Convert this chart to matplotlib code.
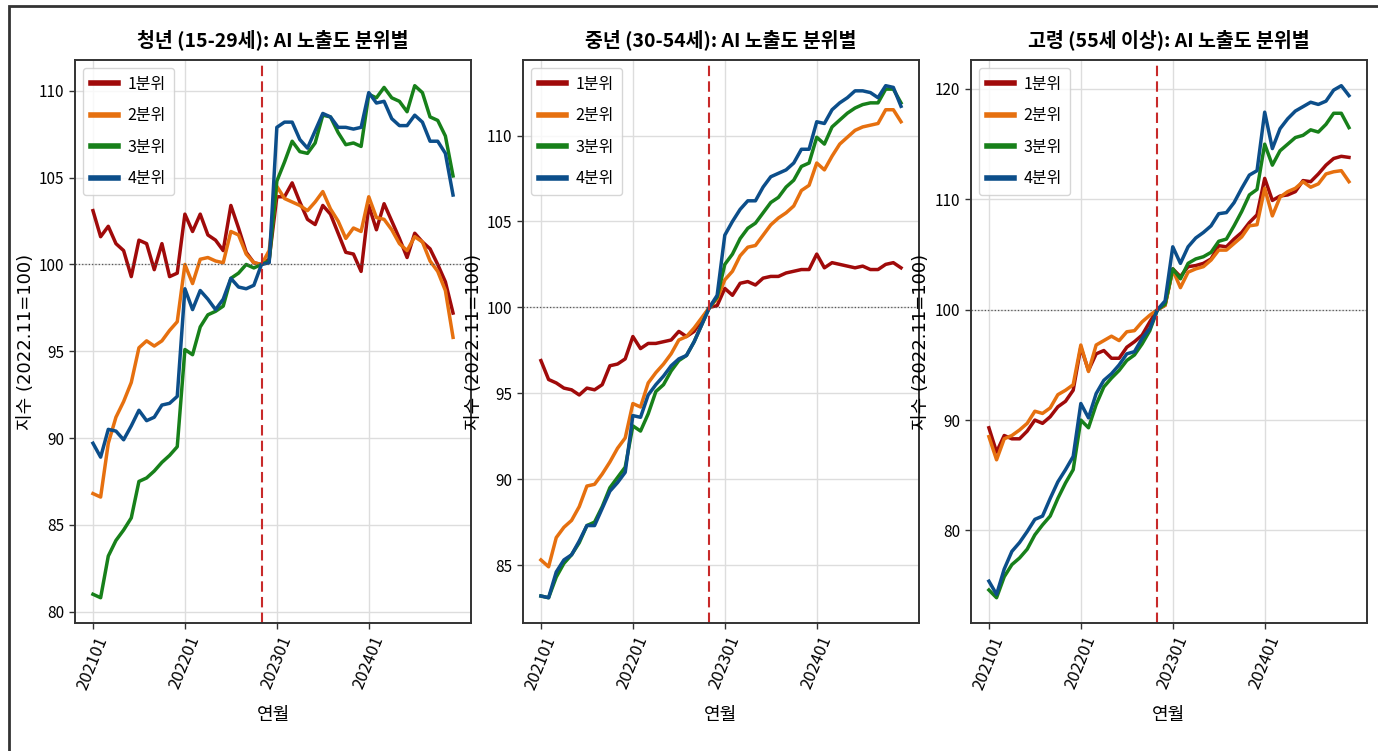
import numpy as np
import matplotlib.pyplot as plt
from matplotlib.patches import Rectangle

plt.rcParams['font.family'] = ['Noto Sans CJK KR', 'DejaVu Sans']
plt.rcParams['axes.unicode_minus'] = False

# 월별 지수 (2021.01 ~ 2024.12, 2022.11 = 100)
months = [f"{y}{m:02d}" for y in range(2021, 2025) for m in range(1, 13)]
tick_labels = ['202101', '202201', '202301', '202401']
base_month = '202211'

quant_names = ['1분위', '2분위', '3분위', '4분위']
quant_colors = ['#a00a0a', '#e6700f', '#17801a', '#0c4e8a']

youth_q1 = [103.1, 101.6, 102.2, 101.2, 100.8, 99.3, 101.4, 101.2, 99.7, 101.2, 99.3, 99.5,
            102.9, 101.9, 102.9, 101.7, 101.4, 100.8, 103.4, 102.1, 100.7, 100.1, 100.0, 100.3,
            103.9, 103.9, 104.7, 103.6, 102.6, 102.3, 103.4, 102.9, 101.8, 100.7, 100.6, 99.6,
            103.4, 102.0, 103.5, 102.5, 101.5, 100.4, 101.8, 101.3, 100.9, 100.0, 99.0, 97.2]
youth_q2 = [86.8, 86.6, 89.7, 91.2, 92.1, 93.2, 95.2, 95.6, 95.3, 95.6, 96.2, 96.7,
            100.0, 98.9, 100.3, 100.4, 100.2, 100.1, 101.9, 101.7, 100.6, 100.1, 100.0, 100.8,
            104.5, 103.8, 103.6, 103.4, 103.1, 103.6, 104.2, 103.2, 102.5, 101.5, 102.1, 101.9,
            103.9, 102.7, 102.6, 102.0, 101.2, 100.8, 101.6, 101.3, 100.2, 99.6, 98.5, 95.8]
youth_q3 = [81.0, 80.8, 83.2, 84.1, 84.7, 85.4, 87.5, 87.7, 88.1, 88.6, 89.0, 89.5,
            95.1, 94.8, 96.4, 97.1, 97.3, 97.6, 99.2, 99.5, 100.0, 99.8, 100.0, 100.2,
            104.8, 105.9, 107.1, 106.5, 106.4, 107.0, 108.6, 108.5, 107.6, 106.9, 107.0, 106.8,
            109.8, 109.6, 110.2, 109.6, 109.4, 108.8, 110.3, 109.9, 108.5, 108.3, 107.4, 105.1]
youth_q4 = [89.7, 88.9, 90.5, 90.4, 89.9, 90.7, 91.6, 91.0, 91.2, 91.9, 92.0, 92.4,
            98.6, 97.4, 98.5, 98.0, 97.4, 98.0, 99.2, 98.7, 98.6, 98.8, 100.0, 100.1,
            107.9, 108.2, 108.2, 107.2, 106.7, 107.7, 108.7, 108.5, 107.9, 107.9, 107.8, 107.9,
            109.9, 109.3, 109.4, 108.4, 108.0, 108.0, 108.6, 108.2, 107.1, 107.1, 106.4, 104.0]

middle_q1 = [96.9, 95.8, 95.6, 95.3, 95.2, 94.9, 95.3, 95.2, 95.5, 96.6, 96.7, 97.0,
             98.3, 97.6, 97.9, 97.9, 98.0, 98.1, 98.6, 98.3, 98.6, 99.3, 100.0, 100.1,
             101.1, 100.7, 101.4, 101.5, 101.3, 101.7, 101.8, 101.8, 102.0, 102.1, 102.2, 102.2,
             103.1, 102.3, 102.6, 102.5, 102.4, 102.3, 102.4, 102.2, 102.2, 102.5, 102.6, 102.3]
middle_q2 = [85.3, 84.9, 86.6, 87.2, 87.6, 88.4, 89.6, 89.7, 90.3, 91.0, 91.8, 92.4,
             94.4, 94.2, 95.6, 96.2, 96.7, 97.3, 98.1, 98.3, 98.8, 99.4, 100.0, 100.5,
             101.6, 102.1, 103.0, 103.5, 103.6, 104.2, 104.8, 105.2, 105.5, 105.9, 106.8, 107.1,
             108.4, 108.0, 108.8, 109.5, 109.9, 110.3, 110.5, 110.6, 110.7, 111.5, 111.5, 110.8]
middle_q3 = [83.2, 83.1, 84.3, 85.1, 85.6, 86.3, 87.3, 87.5, 88.4, 89.5, 90.1, 90.7,
             93.1, 92.8, 93.8, 95.1, 95.5, 96.3, 96.9, 97.2, 98.0, 99.0, 100.0, 100.6,
             102.5, 103.1, 104.0, 104.6, 104.9, 105.5, 106.1, 106.4, 107.0, 107.4, 108.2, 108.4,
             109.9, 109.5, 110.5, 110.9, 111.3, 111.6, 111.8, 111.9, 111.9, 112.7, 112.7, 111.9]
middle_q4 = [83.2, 83.1, 84.6, 85.3, 85.6, 86.4, 87.3, 87.3, 88.3, 89.3, 89.8, 90.4,
             93.7, 93.6, 94.9, 95.5, 96.0, 96.6, 97.0, 97.2, 98.0, 99.0, 100.0, 100.7,
             104.2, 105.0, 105.7, 106.2, 106.2, 107.0, 107.6, 107.8, 108.0, 108.4, 109.2, 109.2,
             110.8, 110.7, 111.5, 111.9, 112.2, 112.6, 112.6, 112.5, 112.2, 112.9, 112.8, 111.7]

senior_q1 = [89.3, 87.1, 88.6, 88.3, 88.3, 89.0, 90.0, 89.7, 90.3, 91.2, 91.7, 92.7,
             96.6, 94.5, 96.0, 96.3, 95.6, 95.6, 96.6, 97.1, 97.7, 98.9, 100.0, 100.4,
             103.7, 103.0, 103.9, 104.0, 104.2, 104.6, 105.8, 105.7, 106.4, 107.0, 107.9, 108.6,
             111.9, 109.9, 110.3, 110.4, 110.7, 111.7, 111.6, 112.3, 113.1, 113.7, 113.9, 113.8]
senior_q2 = [88.5, 86.4, 88.3, 88.6, 89.1, 89.7, 90.8, 90.6, 91.1, 92.3, 92.7, 93.2,
             96.8, 94.4, 96.8, 97.2, 97.6, 97.2, 98.0, 98.1, 98.9, 99.5, 100.0, 100.4,
             103.6, 102.0, 103.4, 103.7, 103.9, 104.5, 105.4, 105.4, 106.0, 106.6, 107.6, 107.7,
             111.0, 108.5, 110.2, 110.7, 111.0, 111.6, 111.1, 111.4, 112.3, 112.5, 112.6, 111.6]
senior_q3 = [74.6, 73.9, 75.8, 76.9, 77.5, 78.3, 79.6, 80.5, 81.3, 82.9, 84.3, 85.5,
             90.0, 89.3, 91.4, 93.0, 93.8, 94.5, 95.4, 95.9, 96.9, 98.1, 100.0, 100.5,
             103.7, 102.8, 104.2, 104.6, 104.8, 105.2, 106.2, 106.4, 107.6, 108.9, 110.4, 110.9,
             115.0, 113.1, 114.4, 115.0, 115.6, 115.8, 116.3, 116.1, 116.8, 117.8, 117.8, 116.5]
senior_q4 = [75.4, 74.2, 76.5, 78.1, 78.9, 79.9, 81.0, 81.3, 82.9, 84.4, 85.5, 86.7,
             91.5, 90.2, 92.4, 93.6, 94.2, 95.0, 96.0, 96.2, 97.4, 98.3, 100.0, 100.8,
             105.7, 104.2, 105.7, 106.5, 107.0, 107.6, 108.7, 108.8, 109.7, 111.0, 112.2, 112.6,
             117.9, 114.6, 116.4, 117.3, 118.0, 118.4, 118.8, 118.6, 118.9, 119.9, 120.3, 119.4]

panel_titles = ['청년 (15-29세): AI 노출도 분위별',
                '중년 (30-54세): AI 노출도 분위별',
                '고령 (55세 이상): AI 노출도 분위별']
panel_series = [[youth_q1, youth_q2, youth_q3, youth_q4],
                [middle_q1, middle_q2, middle_q3, middle_q4],
                [senior_q1, senior_q2, senior_q3, senior_q4]]

x = np.arange(len(months))
tick_pos = [months.index(t) for t in tick_labels]
base_pos = months.index(base_month)

fig, axes = plt.subplots(1, 3, figsize=(13.78, 7.51), dpi=100)
fig.subplots_adjust(left=0.0544, right=0.992, top=0.920, bottom=0.170, wspace=0.131)

for ax, title, series in zip(axes, panel_titles, panel_series):
    for vals, name, color in zip(series, quant_names, quant_colors):
        ax.plot(x, vals, color=color, lw=2.5, label=name)
    ax.axhline(100, color='#555555', lw=0.9, ls=':')
    ax.axvline(base_pos, color='#c82a2a', lw=1.5, ls=(0, (5, 2.5)))

    ax.set_title(title, fontsize=14, fontweight='bold', pad=10)
    ax.set_xlabel('연월', fontsize=13, labelpad=10)
    ax.set_ylabel('지수 (2022.11=100)', fontsize=13,
                  family=['DejaVu Sans', 'Noto Sans CJK KR'])
    ax.yaxis.set_label_coords(-0.102, 0.5)
    ax.set_xticks(tick_pos)
    ax.set_xticklabels(tick_labels, rotation=68, fontsize=12)
    ax.tick_params(axis='y', labelsize=11)
    ax.tick_params(length=4, width=1, color='#333333')
    ax.grid(True, color='#dddddd', lw=1)
    ax.set_axisbelow(True)
    for sp in ax.spines.values():
        sp.set_color('#333333')
        sp.set_linewidth(1.4)

    leg = ax.legend(loc='upper left', fontsize=11.5,
                    handlelength=1.7, handletextpad=0.6,
                    labelspacing=0.9, borderpad=0.5)
    for h in leg.get_lines():
        h.set_linewidth(4)

# 그림 테두리
fig.patches.append(Rectangle((9 / 1378, -0.1), 1.2, 1.1 - 6 / 751,
                             transform=fig.transFigure, fill=False,
                             edgecolor='#333333', lw=2))

fig.savefig('out.png', dpi=100)
